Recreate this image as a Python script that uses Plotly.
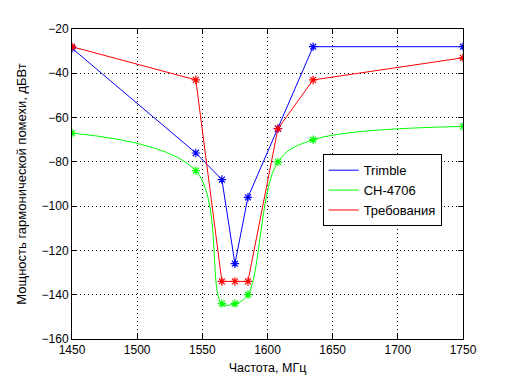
import plotly.graph_objects as go

freq = [1450, 1545, 1565, 1575, 1585, 1608, 1635, 1750]
trimble = [-28.7, -76, -88, -126, -96, -65, -28, -28]
ch4706 = [-67, -84, -144, -144, -140, -80, -70, -64]
treb = [-28, -43, -134, -134, -134, -65, -43, -33]

series = [
    ("Trimble", trimble, "#0000ff", "linear"),
    ("CH-4706", ch4706, "#00ff00", "spline"),
    ("Требования", treb, "#ff0000", "linear"),
]

FONT = "Liberation Sans, Arial, sans-serif"

fig = go.Figure()
for name, vals, col, shape in series:
    fig.add_trace(go.Scatter(
        x=freq, y=vals, mode="lines", name=name,
        line=dict(color=col, width=1, shape=shape, smoothing=1.0),
    ))
for name, vals, col, shape in series:
    fig.add_trace(go.Scatter(
        x=freq, y=vals, mode="markers", showlegend=False,
        marker=dict(symbol="asterisk-open", size=7, color=col,
                    line=dict(color=col, width=1.2)),
    ))

axis_common = dict(
    showline=True, linecolor="black", linewidth=1, mirror="ticks",
    ticks="inside", ticklen=5, tickcolor="black",
    showgrid=True, gridcolor="black", griddash="1px,3px", gridwidth=1,
    zeroline=False,
    tickfont=dict(family=FONT, size=12, color="black"),
)

fig.update_xaxes(range=[1450, 1750], dtick=50, tick0=1450,
                 title=dict(text="Частота, МГц", standoff=6,
                            font=dict(family=FONT, size=12.5, color="black")),
                 **axis_common)
fig.update_yaxes(range=[-160, -20], dtick=20, tick0=-160,
                 title=dict(text="Мощность гармонической помехи, дБВт", standoff=12,
                            font=dict(family=FONT, size=13, color="black")),
                 **axis_common)

fig.update_layout(
    width=504, height=376,
    margin=dict(l=59, r=49, t=21, b=43),
    plot_bgcolor="white", paper_bgcolor="white",
    font=dict(family=FONT, size=12, color="black"),
    legend=dict(x=0.641, y=0.596, xanchor="left", yanchor="top",
                bgcolor="white", bordercolor="black", borderwidth=1,
                font=dict(family=FONT, size=13, color="black"), tracegroupgap=0,
                itemwidth=30, entrywidth=90, entrywidthmode="pixels"),
)

fig.write_html("out.html")
